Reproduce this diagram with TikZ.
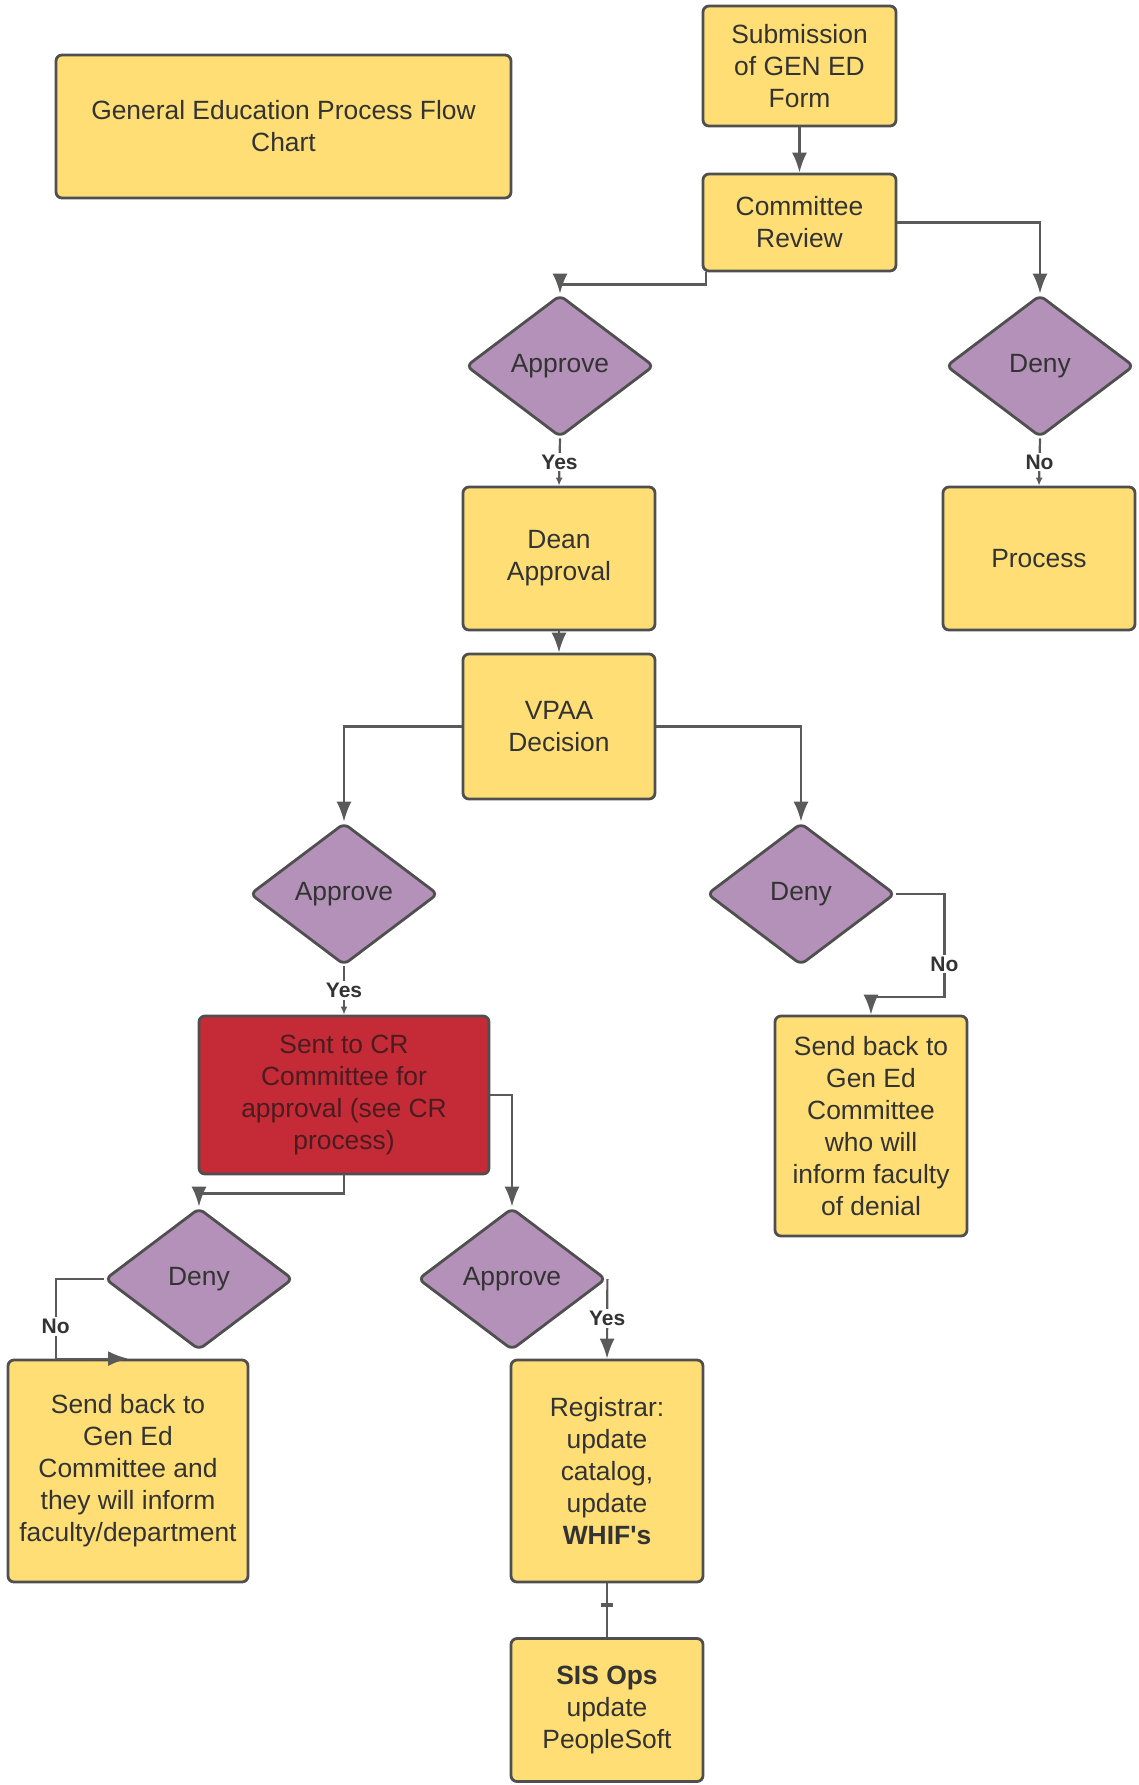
\documentclass[tikz,border=0pt]{standalone}
\usepackage{fontspec}
\setmainfont{Liberation Sans}
\newfontfamily\plainsans{Liberation Sans}
\usetikzlibrary{shapes.geometric,arrows.meta,calc}
\definecolor{boxyellow}{HTML}{FFDE75}
\definecolor{decpurple}{HTML}{B391B8}
\definecolor{crred}{HTML}{C52B37}
\definecolor{edgegray}{HTML}{4F4F4F}
\definecolor{linegray}{HTML}{5A5A5A}
\definecolor{txtgray}{HTML}{333333}
\definecolor{crtext}{HTML}{4A1C20}
\tikzstyle{stepbox}=[draw=edgegray,line width=1.4pt,rounded corners=3pt,fill=boxyellow,align=center,text=txtgray,font=\fontsize{13.2}{16}\selectfont,inner sep=2pt]
\tikzstyle{decision}=[diamond,draw=edgegray,line width=1.4pt,rounded corners=3pt,fill=decpurple,text=txtgray,font=\fontsize{13.2}{16}\selectfont,inner sep=0pt,minimum width=94pt,minimum height=71pt,aspect=1.32]
\tikzstyle{flow}=[->,>={Latex[length=10pt,width=7.5pt]},draw=linegray,line width=1.1pt]
\tikzstyle{shortflow}=[->,>={Latex[length=4pt,width=3.5pt]},draw=linegray,line width=1.1pt]
\tikzstyle{answer}=[fill=white,inner sep=1pt,text=txtgray,font=\fontsize{10.5}{12}\selectfont\bfseries]
\tikzstyle{tick}=[fill=linegray,minimum width=6pt,minimum height=2pt,inner sep=0pt]

\begin{document}
\begin{tikzpicture}[x=0.5pt,y=-0.5pt]
	\useasboundingbox (0,0) rectangle (1139,1785);
	% boxes
	\node[stepbox,minimum width=227.5pt,minimum height=71.5pt] (title) at (283.5,126.5) {General Education Process Flow\\Chart};
	\node[stepbox,minimum width=96.5pt,minimum height=60pt] (submit) at (799.5,66) {Submission\\of GEN ED\\Form};
	\node[stepbox,minimum width=96.5pt,minimum height=48.5pt] (review) at (799.5,222.5) {Committee\\Review};
	\node[decision] (approveA) at (560,366) {Approve};
	\node[decision] (denyA) at (1040,366) {Deny};
	\node[stepbox,minimum width=96pt,minimum height=71.5pt] (dean) at (559,558.5) {Dean\\Approval};
	\node[stepbox,minimum width=96pt,minimum height=71.5pt] (process) at (1039,558.5) {Process};
	\node[stepbox,minimum width=96pt,minimum height=72.5pt] (vpaa) at (559,726.5) {VPAA\\Decision};
	\node[decision] (approveB) at (344,894) {Approve};
	\node[decision] (denyB) at (801,894) {Deny};
	\node[stepbox,fill=crred,text=crtext,minimum width=145pt,minimum height=79pt] (crbox) at (344,1095) {Sent to CR\\Committee for\\approval (see CR\\process)};
	\node[stepbox,minimum width=96pt,minimum height=110pt] (sendR) at (871,1126) {Send back to\\Gen Ed\\Committee\\who will\\inform faculty\\of denial};
	\node[decision] (denyC) at (199,1279) {Deny};
	\node[decision] (approveC) at (512,1279) {Approve};
	\node[stepbox,minimum width=120pt,minimum height=111pt] (sendL) at (128,1471) {Send back to\\Gen Ed\\Committee and\\they will inform\\faculty/department};
	\node[stepbox,minimum width=96pt,minimum height=111pt] (registrar) at (607,1471) {Registrar:\\update\\catalog,\\update\\{\plainsans\bfseries WHIF's}};
	\node[stepbox,minimum width=96pt,minimum height=71.5pt] (sisops) at (607,1710) {\textbf{SIS Ops}\\update\\PeopleSoft};
	% connectors
	\draw[flow] (submit) -- (review);
	\draw[flow] ([xshift=2pt]review.south west) -- ++(0,12) -| (approveA.north);
	\draw[flow] (review.east) -| (denyA.north);
	\draw[shortflow] (approveA.south) -- (dean.north) node[midway,answer] {Yes};
	\draw[shortflow] (denyA.south) -- (process.north) node[midway,answer] {No};
	\draw[flow] (dean) -- (vpaa);
	\draw[flow] (vpaa.west) -| (approveB.north);
	\draw[flow] (vpaa.east) -| (denyB.north);
	\draw[shortflow] (approveB.south) -- (crbox.north) node[midway,answer] {Yes};
	\draw[flow] (denyB.east) -| ++(48,103) node[pos=0.84,answer] {No} -| (sendR.north);
	\draw[flow] (crbox.south) -- ++(0,18) -| (denyC.north);
	\draw[flow] (crbox.east) -| (approveC.north);
	\draw[flow] (denyC.west) -- ++(-48,0) |- (sendL.north) node[pos=0.3,answer] {No};
	\draw[flow] (approveC.east) -- (registrar.north) node[midway,answer] {Yes};
	\draw[draw=linegray,line width=0.6pt] (registrar.south) -- (sisops.north) node[pos=0.4,tick] {};
\end{tikzpicture}
\end{document}
